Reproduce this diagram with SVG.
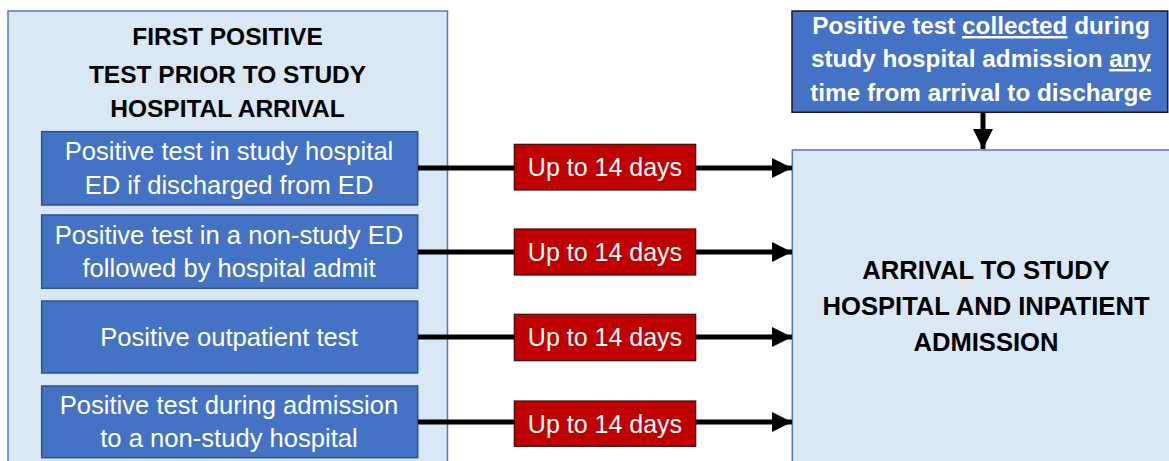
<svg xmlns="http://www.w3.org/2000/svg" width="1169" height="461" viewBox="0 0 1169 461">
  <style>
    .light { fill: #DAE7F5; stroke: #4F79C0; stroke-width: 1.5; }
    .blue { fill: #4472C4; stroke: #2F528F; stroke-width: 1.5; }
    .topbox { fill: #4472C4; stroke: #1a1a1a; stroke-width: 1.5; }
    .red { fill: #C00000; stroke: #3a0a0a; stroke-width: 1.2; }
    .hdr { font-family: "Liberation Sans", Arial, sans-serif; font-weight: bold; fill: #000; text-anchor: middle; }
    .wt { font-family: "Liberation Sans", Arial, sans-serif; fill: #fff; text-anchor: middle; font-size: 25.6px; }
    .lbl { font-family: "Liberation Sans", Arial, sans-serif; fill: #fff; text-anchor: middle; font-size: 25px; }
    .wtb { font-family: "Liberation Sans", Arial, sans-serif; fill: #fff; text-anchor: middle; font-size: 24.3px; font-weight: bold; }
    .conn { stroke: #000; stroke-width: 5; fill: none; }
  </style>
  <defs>
    <marker id="arr" markerUnits="userSpaceOnUse" markerWidth="20" markerHeight="20" refX="20" refY="10" orient="auto">
      <path d="M0,0 L20,10 L0,20 Z" fill="#000"/>
    </marker>
  </defs>
  <rect width="1169" height="461" fill="#fff"/>

  <g id="group-prior">
    <rect class="light" x="8" y="11" width="439.5" height="460"/>
    <text class="hdr" font-size="24.5" x="227.5" y="45">FIRST POSITIVE</text>
    <text class="hdr" font-size="24.5" x="227.5" y="83">TEST PRIOR TO STUDY</text>
    <text class="hdr" font-size="24.5" x="227.5" y="117">HOSPITAL ARRIVAL</text>
  </g>

  <g id="node-study-ed">
    <rect class="blue" x="41.7" y="131.7" width="376" height="73.3"/>
    <text class="wt" x="229" y="160">Positive test in study hospital</text>
    <text class="wt" x="229" y="194">ED if discharged from ED</text>
  </g>
  <g id="node-nonstudy-ed">
    <rect class="blue" x="41.7" y="215" width="376" height="73.3"/>
    <text class="wt" x="229" y="243.5">Positive test in a non-study ED</text>
    <text class="wt" x="229" y="277">followed by hospital admit</text>
  </g>
  <g id="node-outpatient">
    <rect class="blue" x="41.7" y="301" width="376" height="72"/>
    <text class="wt" x="229" y="346">Positive outpatient test</text>
  </g>
  <g id="node-nonstudy-hosp">
    <rect class="blue" x="41.7" y="386" width="376" height="71.7"/>
    <text class="wt" x="229" y="413.5">Positive test during admission</text>
    <text class="wt" x="229" y="447">to a non-study hospital</text>
  </g>

  <g id="node-collected">
    <rect class="topbox" x="792" y="11" width="375.7" height="101.3"/>
    <text class="wtb" x="981" y="34">Positive test <tspan text-decoration="underline">collected</tspan> during</text>
    <text class="wtb" x="981" y="67">study hospital admission <tspan text-decoration="underline">any</tspan></text>
    <text class="wtb" x="981" y="100.5">time from arrival to discharge</text>
  </g>

  <g id="node-arrival">
    <rect class="light" x="792.3" y="150" width="400" height="330"/>
    <text class="hdr" font-size="25.6" x="986" y="278.5">ARRIVAL TO STUDY</text>
    <text class="hdr" font-size="25.6" x="986" y="314.5">HOSPITAL AND INPATIENT</text>
    <text class="hdr" font-size="25.6" x="986" y="350.5">ADMISSION</text>
  </g>

  <g id="connectors">
    <line class="conn" x1="418" y1="168" x2="792" y2="168" marker-end="url(#arr)"/>
    <line class="conn" x1="418" y1="252" x2="792" y2="252" marker-end="url(#arr)"/>
    <line class="conn" x1="418" y1="337" x2="792" y2="337" marker-end="url(#arr)"/>
    <line class="conn" x1="418" y1="422" x2="792" y2="422" marker-end="url(#arr)"/>
    <line class="conn" x1="983" y1="112.5" x2="983" y2="149" marker-end="url(#arr)"/>
    <g id="label-1">
      <rect class="red" x="514.3" y="144.3" width="181.4" height="45.7"/>
      <text class="lbl" x="605" y="176">Up to 14 days</text>
    </g>
    <g id="label-2">
      <rect class="red" x="514.3" y="229" width="181.4" height="46"/>
      <text class="lbl" x="605" y="261">Up to 14 days</text>
    </g>
    <g id="label-3">
      <rect class="red" x="514.3" y="314.3" width="181.4" height="46.4"/>
      <text class="lbl" x="605" y="346">Up to 14 days</text>
    </g>
    <g id="label-4">
      <rect class="red" x="514.3" y="401" width="181.4" height="45.3"/>
      <text class="lbl" x="605" y="432.5">Up to 14 days</text>
    </g>
  </g>
</svg>
